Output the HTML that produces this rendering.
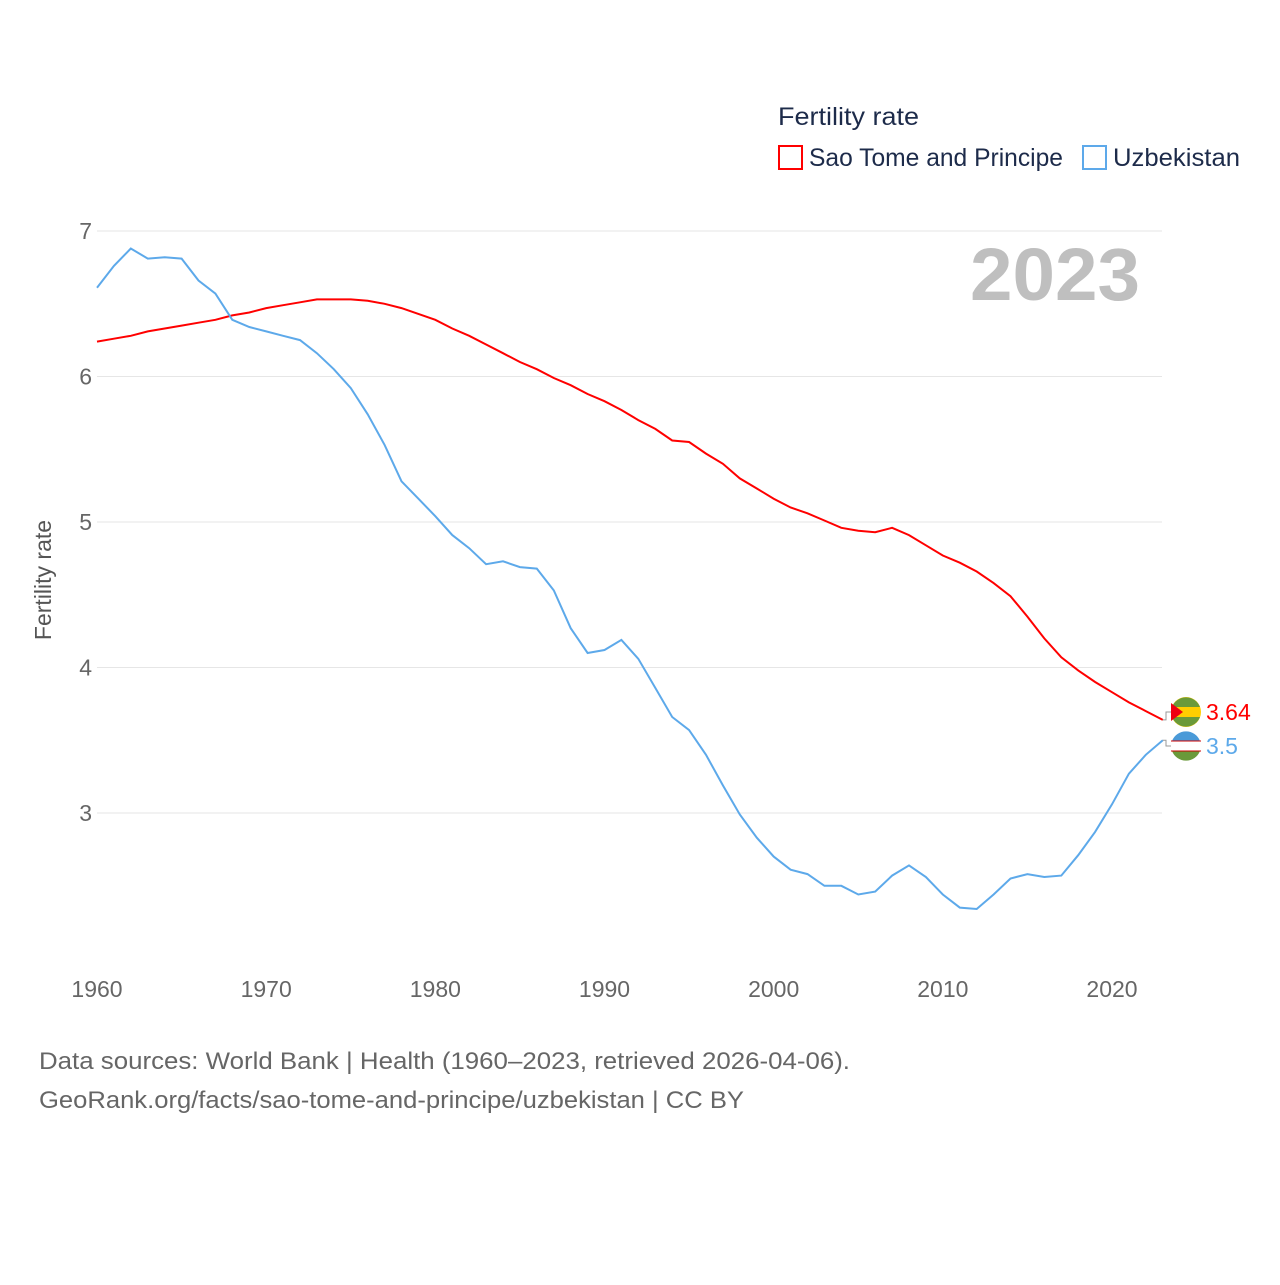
<!DOCTYPE html>
<html><head><meta charset="utf-8"><style>
html,body{margin:0;padding:0;background:#fff;}
svg text{font-family:"Liberation Sans",sans-serif;}
</style></head><body>
<svg id="chart" width="1280" height="1280" xmlns="http://www.w3.org/2000/svg">
<text x="778" y="125" font-size="25" fill="#1d2b4a" textLength="141" lengthAdjust="spacingAndGlyphs">Fertility rate</text>
<g>
<rect x="779" y="146" width="23" height="23" fill="none" stroke="#f00" stroke-width="2"/>
<text x="809" y="166" font-size="25" fill="#1d2b4a" textLength="254" lengthAdjust="spacingAndGlyphs">Sao Tome and Principe</text></g>
<g>
<rect x="1083" y="146" width="23" height="23" fill="none" stroke="#5da9ea" stroke-width="2"/>
<text x="1113" y="166" font-size="25" fill="#1d2b4a" textLength="127" lengthAdjust="spacingAndGlyphs">Uzbekistan</text></g>
<g id="grid"></g>
<text x="1140" y="300" font-size="74" font-weight="bold" fill="#bfbfbf" text-anchor="end" textLength="170" lengthAdjust="spacingAndGlyphs">2023</text>
<text transform="translate(51,580) rotate(-90)" font-size="23" fill="#555" text-anchor="middle">Fertility rate</text>
<g id="series"></g>
<text x="39" y="1069" font-size="24" fill="#666" textLength="811" lengthAdjust="spacingAndGlyphs">Data sources: World Bank | Health (1960–2023, retrieved 2026-04-06).</text>
<text x="39" y="1108" font-size="24" fill="#666" textLength="705" lengthAdjust="spacingAndGlyphs">GeoRank.org/facts/sao-tome-and-principe/uzbekistan | CC BY</text>
</svg>
<script>
const years=[];for(let y=1960;y<=2023;y++)years.push(y);
const saoTome=[6.24,6.26,6.28,6.31,6.33,6.35,6.37,6.39,6.42,6.44,6.47,6.49,6.51,6.53,6.53,6.53,6.52,6.50,6.47,6.43,6.39,6.33,6.28,6.22,6.16,6.10,6.05,5.99,5.94,5.88,5.83,5.77,5.70,5.64,5.56,5.55,5.47,5.40,5.30,5.23,5.16,5.10,5.06,5.01,4.96,4.94,4.93,4.96,4.91,4.84,4.77,4.72,4.66,4.58,4.49,4.35,4.20,4.07,3.98,3.90,3.83,3.76,3.70,3.64];
const uzbekistan=[6.61,6.76,6.88,6.81,6.82,6.81,6.66,6.57,6.39,6.34,6.31,6.28,6.25,6.16,6.05,5.92,5.74,5.53,5.28,5.16,5.04,4.91,4.82,4.71,4.73,4.69,4.68,4.53,4.27,4.10,4.12,4.19,4.06,3.86,3.66,3.57,3.40,3.19,2.99,2.83,2.70,2.61,2.58,2.50,2.50,2.44,2.46,2.57,2.64,2.56,2.44,2.35,2.34,2.44,2.55,2.58,2.56,2.57,2.71,2.87,3.06,3.27,3.40,3.50];
const yTicks=[3,4,5,6,7];
const xTicks=[1960,1970,1980,1990,2000,2010,2020];
const NS='http://www.w3.org/2000/svg';
const xs=y=>97+(y-1960)*(1015/60);
const ys=v=>813-(v-3)*145.5;
const grid=document.getElementById('grid');
function mk(tag,attrs,parent){const e=document.createElementNS(NS,tag);for(const k in attrs)e.setAttribute(k,attrs[k]);parent.appendChild(e);return e;}
yTicks.forEach(t=>{
 const l=mk('line',{x1:97,x2:1162,y1:ys(t),y2:ys(t),stroke:'#e6e6e6','stroke-width':1},grid);
 
 
 const tx=mk('text',{x:92,y:ys(t)+8,'font-size':23,fill:'#666','text-anchor':'end'},grid);tx.textContent=t;
 
 
});
xTicks.forEach(t=>{
 const tx=mk('text',{x:xs(t),y:997,'font-size':23,fill:'#666','text-anchor':'middle'},grid);tx.textContent=t;
 
 
});
const ser=document.getElementById('series');
function line(vals,color,name,label,ly,flag){
 const p=mk('path',{d:vals.map((v,i)=>(i?'L':'M')+xs(years[i]).toFixed(1)+','+ys(v).toFixed(1)).join(''),fill:'none',stroke:color,'stroke-width':2},ser);
 
 
 const lx=xs(years[years.length-1]),lyv=ys(vals[vals.length-1]);
 mk('path',{d:`M${lx},${lyv}L1166,${lyv}L1166,${ly}L1171,${ly}`,fill:'none',stroke:'#999','stroke-width':1},ser);
 const g=mk('g',{},ser);
 
 
 flag(g,1186,ly);
 const t=mk('text',{x:1206,y:ly+8,'font-size':23,fill:color},ser);t.textContent=label;
 
 
}
line(saoTome,'#ff0000','sao-tome','3.64',712,(g,cx,cy)=>{
 mk('circle',{cx,cy,r:15,fill:'#ffce00'},g);
 mk('path',{d:`M${cx-14},${cy-5}A15,15 0 0 1 ${cx+14},${cy-5}Z`,fill:'#6a9a3a'},g);
 mk('path',{d:`M${cx-14},${cy+5}A15,15 0 0 0 ${cx+14},${cy+5}Z`,fill:'#6a9a3a'},g);
 mk('path',{d:`M${cx-15},${cy-9}L${cx-3},${cy}L${cx-15},${cy+9}Z`,fill:'#e01'},g);
});
line(uzbekistan,'#5da9ea','uzbekistan','3.5',746,(g,cx,cy)=>{
 mk('circle',{cx,cy,r:15,fill:'#fff'},g);
 mk('path',{d:`M${cx-14},${cy-5}A15,15 0 0 1 ${cx+14},${cy-5}Z`,fill:'#4a9ad8'},g);
 mk('path',{d:`M${cx-14},${cy+5}A15,15 0 0 0 ${cx+14},${cy+5}Z`,fill:'#6a9a3a'},g);
 mk('line',{x1:cx-15,x2:cx+15,y1:cy-5,y2:cy-5,stroke:'#c00','stroke-width':1},g);
 mk('line',{x1:cx-15,x2:cx+15,y1:cy+5,y2:cy+5,stroke:'#c00','stroke-width':1},g);
});
</script>
</body></html>
